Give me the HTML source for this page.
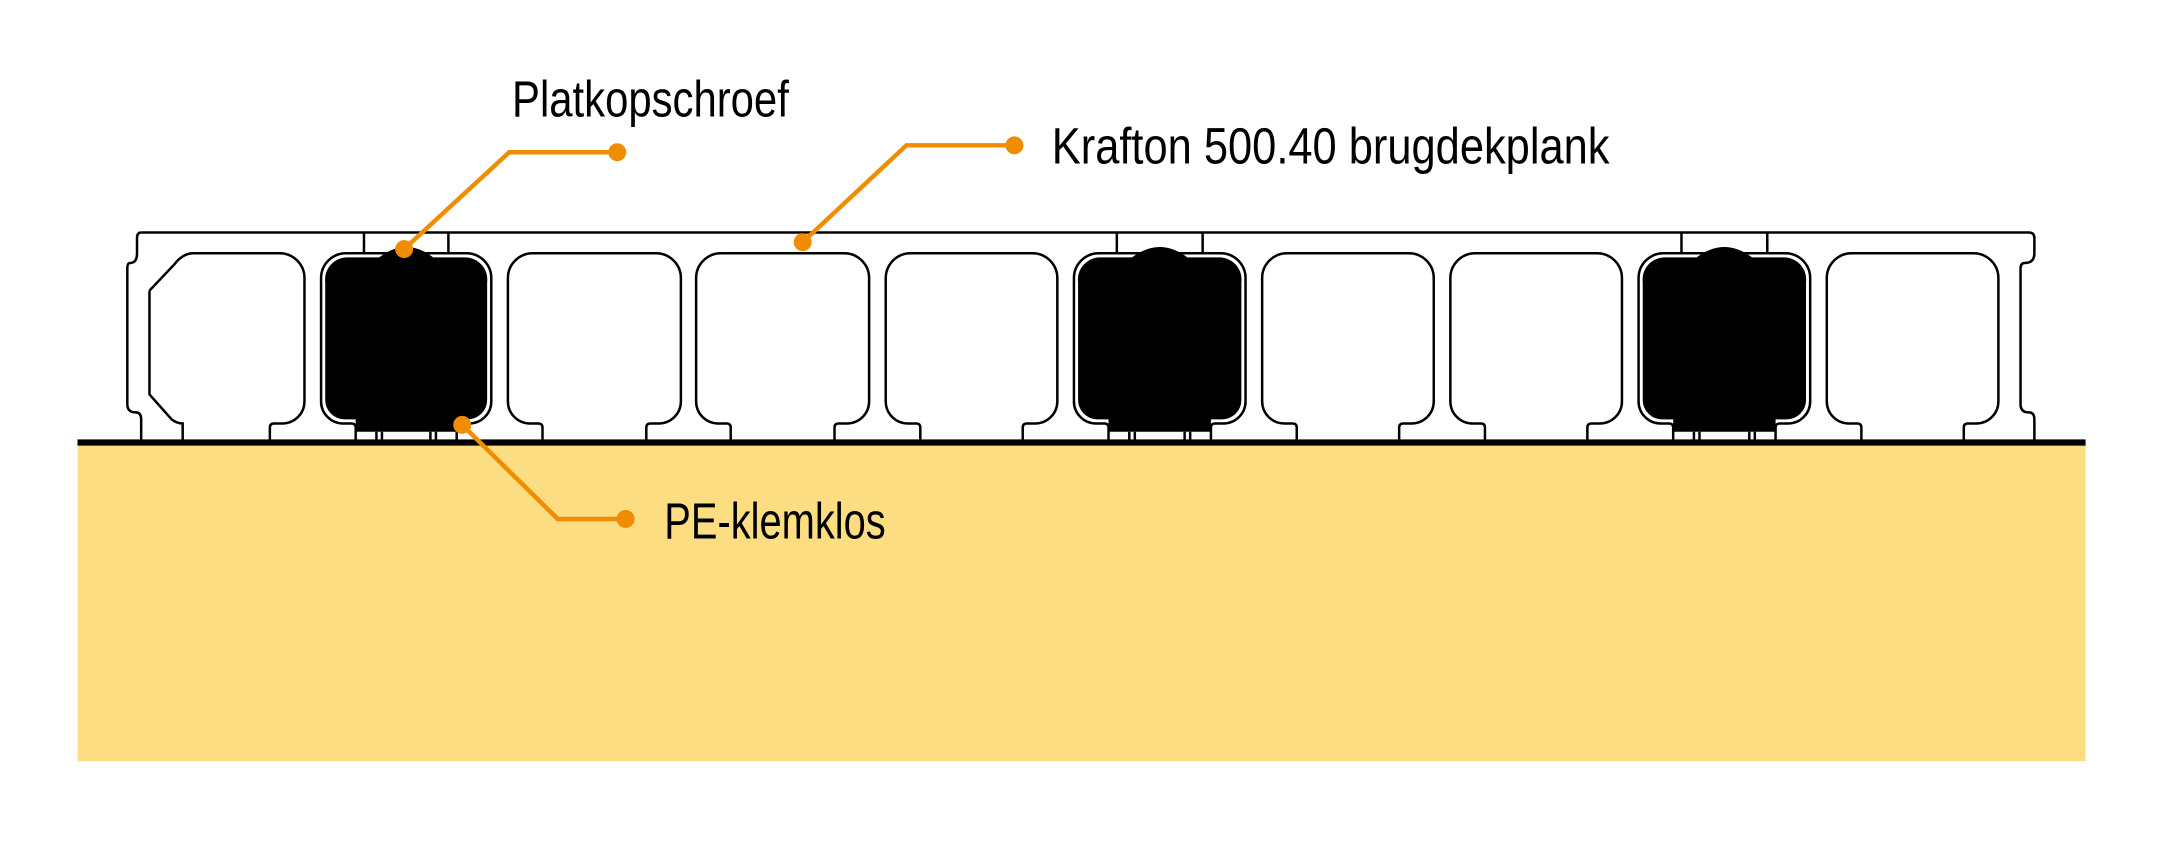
<!DOCTYPE html>
<html><head><meta charset="utf-8"><style>html,body{margin:0;padding:0;background:#fff}svg{display:block}</style></head>
<body>
<svg width="2170" height="846" viewBox="0 0 1568 611.3" preserveAspectRatio="none" xmlns="http://www.w3.org/2000/svg">
<rect x="56" y="321" width="1451" height="229" fill="#fddd82"/>
<rect x="56" y="317.5" width="1451" height="4.5" fill="#000"/>
<g fill="#000" stroke="none">
<path d="M235,204 A16 16 0 0 1 251,186 H274 Q293.5,171 313,186 H336 A16 16 0 0 1 352,204 V289 A14 14 0 0 1 338,303 H330 V312 H257 V303 H249 A14 14 0 0 1 235,289 Z"/>
<path d="M779,204 A16 16 0 0 1 795,186 H818 Q838,171 858,186 H881 A16 16 0 0 1 897,204 V289 A14 14 0 0 1 883,303 H875 V312 H801 V303 H793 A14 14 0 0 1 779,289 Z"/>
<path d="M1187,204 A16 16 0 0 1 1203,186 H1226 Q1246,171 1266,186 H1289 A16 16 0 0 1 1305,204 V289 A14 14 0 0 1 1291,303 H1283 V312 H1209 V303 H1201 A14 14 0 0 1 1187,289 Z"/>
</g>
<g fill="none" stroke="#000" stroke-width="1.8">
<path d="M102,168 H1466 Q1470,168 1470,172 V183 Q1470,190 1463,190 Q1460,190 1460,194 V292 Q1460,298 1466,298 Q1470,298 1470,303 V318"/>
<path d="M102,168 Q99,168 99,172 V183 Q99,190 94,190 Q92,190 92,194 V292 Q92,298 98,298 Q102,298 102,303 V318"/>
<path d="M108,210 L126,191 Q132,183 140,183 H202 A18 18 0 0 1 220,201 V290 A16 16 0 0 1 204,306 H198 Q195,306 195,309 V318"/>
<path d="M108,210 V285 L124,303 Q128,306 132,306 V318"/>
<path d="M257,318 V309 Q257,306 254,306 H248 A16 16 0 0 1 232,290 V201 A18 18 0 0 1 250,183 H337 A18 18 0 0 1 355,201 V290 A16 16 0 0 1 339,306 H333 Q330,306 330,309 V318"/>
<path d="M263,168V183 M324,168V183 M272,312V318 M276,312V318 M311,312V318 M315,312V318"/>
<path d="M392,318 V309 Q392,306 389,306 H383 A16 16 0 0 1 367,290 V201 A18 18 0 0 1 385,183 H474 A18 18 0 0 1 492,201 V290 A16 16 0 0 1 476,306 H470 Q467,306 467,309 V318"/>
<path d="M528,318 V309 Q528,306 525,306 H519 A16 16 0 0 1 503,290 V201 A18 18 0 0 1 521,183 H610 A18 18 0 0 1 628,201 V290 A16 16 0 0 1 612,306 H606 Q603,306 603,309 V318"/>
<path d="M665,318 V309 Q665,306 662,306 H656 A16 16 0 0 1 640,290 V201 A18 18 0 0 1 658,183 H746 A18 18 0 0 1 764,201 V290 A16 16 0 0 1 748,306 H742 Q739,306 739,309 V318"/>
<path d="M801,318 V309 Q801,306 798,306 H792 A16 16 0 0 1 776,290 V201 A18 18 0 0 1 794,183 H882 A18 18 0 0 1 900,201 V290 A16 16 0 0 1 884,306 H878 Q875,306 875,309 V318"/>
<path d="M807,168V183 M869,168V183 M816,312V318 M820,312V318 M856,312V318 M860,312V318"/>
<path d="M937,318 V309 Q937,306 934,306 H928 A16 16 0 0 1 912,290 V201 A18 18 0 0 1 930,183 H1018 A18 18 0 0 1 1036,201 V290 A16 16 0 0 1 1020,306 H1014 Q1011,306 1011,309 V318"/>
<path d="M1073,318 V309 Q1073,306 1070,306 H1064 A16 16 0 0 1 1048,290 V201 A18 18 0 0 1 1066,183 H1154 A18 18 0 0 1 1172,201 V290 A16 16 0 0 1 1156,306 H1150 Q1147,306 1147,309 V318"/>
<path d="M1209,318 V309 Q1209,306 1206,306 H1200 A16 16 0 0 1 1184,290 V201 A18 18 0 0 1 1202,183 H1290 A18 18 0 0 1 1308,201 V290 A16 16 0 0 1 1292,306 H1286 Q1283,306 1283,309 V318"/>
<path d="M1215,168V183 M1277,168V183 M1224,312V318 M1228,312V318 M1264,312V318 M1268,312V318"/>
<path d="M1345,318 V309 Q1345,306 1342,306 H1336 A16 16 0 0 1 1320,290 V201 A18 18 0 0 1 1338,183 H1426 A18 18 0 0 1 1444,201 V290 A16 16 0 0 1 1428,306 H1422 Q1419,306 1419,309 V318"/>
</g>
<g stroke="#f08c00" stroke-width="3.2" fill="none">
<polyline points="446,110 368,110 292,180"/>
<polyline points="733,105 655,105 580,175"/>
<polyline points="334,307 403,375 452,375"/>
</g>
<g fill="#f08c00">
<circle cx="446" cy="110" r="6.5"/><circle cx="292" cy="180" r="6.5"/>
<circle cx="733" cy="105" r="6.5"/><circle cx="580" cy="175" r="6.5"/>
<circle cx="334" cy="307" r="6.5"/><circle cx="452" cy="375" r="6.5"/>
</g>
<g font-family="Liberation Sans, sans-serif" font-size="37" fill="#000">
<text x="370" y="84" textLength="200" lengthAdjust="spacingAndGlyphs">Platkopschroef</text>
<text x="760" y="118" textLength="403" lengthAdjust="spacingAndGlyphs">Krafton 500.40 brugdekplank</text>
<text x="480" y="389" textLength="160" lengthAdjust="spacingAndGlyphs">PE-klemklos</text>
</g>
</svg>
</body></html>
